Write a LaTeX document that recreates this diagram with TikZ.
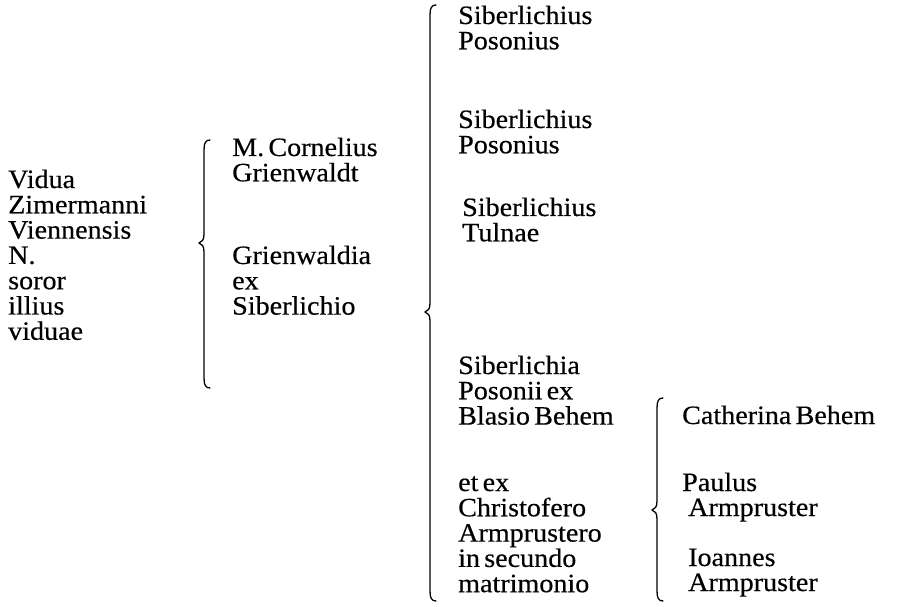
\documentclass[tikz,border=0pt]{standalone}
\usepackage{fontspec}
\setmainfont{Liberation Serif}[FakeStretch=1.06,FakeBold=0.4]
\newcommand\stacklines[1]{\vtop{\lineskiplimit=-50pt\halign{##\hfil\cr#1\crcr}}}
\newcommand\treefont{\fontsize{26.5}{25.3}\selectfont\spaceskip=0.16em plus 0.05em minus 0.02em\relax}
% brace: x, top, tip, bottom
\newcommand\treebrace[4]{%
  \draw[bracestyle] (#1+6,#2) .. controls (#1+1.5,#2) and (#1,#2+3) .. (#1,#2+10)
    -- (#1,#3-9) .. controls (#1,#3-3) and (#1-2,#3-1) .. (#1-5,#3)
    .. controls (#1-2,#3+1) and (#1,#3+3) .. (#1,#3+9)
    -- (#1,#4-10) .. controls (#1,#4-3) and (#1+1.5,#4) .. (#1+6,#4);}
\begin{document}
\begin{tikzpicture}[x=1pt,y=-1pt,
  txt/.style={inner sep=0pt,anchor=base west,font=\treefont},
  bracestyle/.style={line width=1.3pt,line cap=round,line join=round}]
\useasboundingbox (0,0) rectangle (906,607);
% column 1
\node[txt] (vidua) at (8,188) {\stacklines{Vidua\cr Zimermanni\cr Viennensis\cr N.\cr soror\cr illius\cr viduae}};
% column 2
\node[txt] (cornelius) at (232,156) {\stacklines{M. Cornelius\cr Grienwaldt}};
\node[txt] (grienwaldia) at (232,264) {\stacklines{Grienwaldia\cr ex\cr Siberlichio}};
% column 3
\node[txt] (sib1) at (458,24) {\stacklines{Siberlichius\cr Posonius}};
\node[txt] (sib2) at (458,128) {\stacklines{Siberlichius\cr Posonius}};
\node[txt] (sib3) at (462,216) {\stacklines{Siberlichius\cr Tulnae}};
\node[txt] (sibia) at (458,374) {\stacklines{Siberlichia\cr Posonii ex\cr Blasio Behem}};
\node[txt] (etex) at (458,491) {\stacklines{et ex\cr Christofero\cr Armprustero\cr in secundo\cr matrimonio}};
% column 4
\node[txt] (cath) at (682,424) {Catherina Behem};
\node[txt] (paulus) at (682,491) {Paulus};
\node[txt] (arm1) at (688,516) {Armpruster};
\node[txt] (ioannes) at (688,566) {Ioannes};
\node[txt] (arm2) at (688,591) {Armpruster};
% braces
\treebrace{204}{140}{243}{388}
\treebrace{430}{5}{312}{601}
\treebrace{657}{398}{510}{601}
\end{tikzpicture}
\end{document}
